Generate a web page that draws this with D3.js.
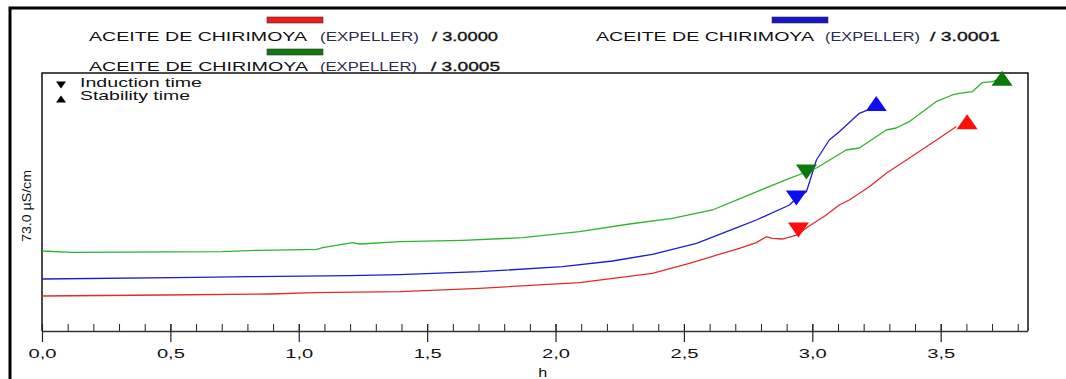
<!DOCTYPE html>
<html><head><meta charset="utf-8">
<script src="https://cdn.jsdelivr.net/npm/d3@7"></script>
<style>html,body{margin:0;padding:0;background:#fff;}svg{display:block;}</style>
</head><body>
<script>
// ---- data ----
const seriesNames = ["ACEITE DE CHIRIMOYA", "ACEITE DE CHIRIMOYA", "ACEITE DE CHIRIMOYA"];
const seriesTags = ["(EXPELLER)", "(EXPELLER)", "(EXPELLER)"];
const seriesMass = ["/ 3.0000", "/ 3.0001", "/ 3.0005"];

const redTime  = [0, 0.471, 0.887, 1.062, 1.393, 1.704, 2.093, 2.377, 2.521, 2.599, 2.650, 2.716, 2.782, 2.821, 2.844, 2.883, 2.938, 2.988, 3.050, 3.105, 3.144, 3.222, 3.288, 3.377, 3.444, 3.494, 3.560];
const redValue = [9.90, 10.19, 10.47, 10.84, 11.12, 12.08, 13.67, 16.33, 19.16, 20.85, 21.99, 23.40, 25.00, 26.68, 26.23, 26.03, 27.16, 29.71, 32.60, 35.65, 37.07, 40.83, 44.62, 48.87, 52.15, 54.53, 57.81];

const blueTime  = [0, 0.603, 0.809, 1.198, 1.393, 1.704, 2.027, 2.222, 2.377, 2.549, 2.716, 2.782, 2.911, 2.938, 2.977, 3.016, 3.066, 3.105, 3.183, 3.222];
const blueValue = [14.71, 15.19, 15.36, 15.65, 15.93, 16.78, 18.19, 19.81, 21.70, 24.81, 29.51, 31.41, 35.65, 37.55, 39.42, 48.38, 54.04, 56.39, 61.60, 62.73];

const greenTime  = [0, 0.117, 0.700, 0.848, 1.070, 1.093, 1.210, 1.237, 1.393, 1.638, 1.872, 2.093, 2.288, 2.455, 2.611, 2.716, 2.911, 2.977, 3.016, 3.132, 3.183, 3.288, 3.327, 3.377, 3.482, 3.545, 3.572, 3.623, 3.661, 3.700, 3.739];
const greenValue = [22.64, 22.27, 22.44, 22.83, 23.12, 23.57, 24.98, 24.62, 25.27, 25.66, 26.40, 28.10, 30.28, 31.89, 34.24, 37.41, 43.21, 44.99, 46.12, 51.21, 51.78, 56.87, 57.44, 59.22, 64.88, 66.78, 67.26, 67.71, 70.26, 70.54, 71.50];

const inductionTime  = [2.946, 2.938, 2.977];
const inductionValue = [28.6, 37.6, 45.0];
const stabilityTime  = [3.603, 3.249, 3.739];
const stabilityValue = [59.2, 64.4, 71.5];

const xTicksMajor = [0, 0.5, 1.0, 1.5, 2.0, 2.5, 3.0, 3.5];
const xMax = 3.84;
const yMax = 73.0;
const yLabel = "73.0 µS/cm";
const xLabel = "h";
const markerLegend = ["Induction time", "Stability time"];

// ---- styles ----
const lineColors = ["#e32a2a", "#1e1ecc", "#2eb42e"];
const markerColors = ["#ff0c0c", "#0c0cf5", "#0a7a0a"];
const swatchColors = ["#ee1c1c", "#1414c8", "#127812"];

const W = 1066, H = 379;
const L = 42, R = 1028, T = 73, B = 331;
const svg = d3.select("body").append("svg").attr("width", W).attr("height", H);
svg.append("rect").attr("width", W).attr("height", H).attr("fill", "#fff");

const x = d3.scaleLinear().domain([0, xMax]).range([L, R]);
const y = d3.scaleLinear().domain([0, yMax]).range([B, T]);

// outer frame
svg.append("path").attr("d", `M10,${H} L10,8 L${W},8`).attr("fill", "none").attr("stroke", "#000").attr("stroke-width", 3);

// plot box
svg.append("path").attr("d", `M${L},${B} L${L},${T} L${R},${T} L${R},${B}`)
  .attr("fill", "none").attr("stroke", "#111").attr("stroke-width", 1.5);

const font = "'Liberation Sans', Arial, sans-serif";

// minor ticks
const minorTicks = d3.range(0, 39).map(i => i / 10).filter(v => v <= xMax);
const gMinor = svg.append("g").attr("transform", `translate(0,${B})`)
  .call(d3.axisBottom(x).tickValues(minorTicks).tickSize(-7).tickFormat(""));
gMinor.select(".domain").remove();
gMinor.selectAll(".tick line").attr("stroke", "#222").attr("stroke-width", 1);

// major axis
const fmt = d3.format(".1f");
const gMajor = svg.append("g").attr("transform", `translate(0,${B})`)
  .call(d3.axisBottom(x).tickValues(xTicksMajor).tickSize(11).tickPadding(7)
    .tickFormat(d => fmt(d).replace(".", ",")));
gMajor.select(".domain").attr("stroke", "#333").attr("stroke-width", 1.5)
  .attr("d", `M${L},0.5H${R}`);
gMajor.selectAll(".tick line").attr("y1", -7).attr("stroke", "#222").attr("stroke-width", 1.2);
gMajor.selectAll(".tick text").attr("font-family", font).attr("font-size", 12.5).attr("fill", "#111")
  .attr("textLength", 28).attr("lengthAdjust", "spacingAndGlyphs");

// axis titles
svg.append("text").attr("x", x(1.95)).attr("y", 377).attr("text-anchor", "middle")
  .attr("font-family", font).attr("font-size", 12).attr("fill", "#111")
  .attr("textLength", 9).attr("lengthAdjust", "spacingAndGlyphs").text(xLabel);
svg.append("text").attr("transform", "translate(31,206) rotate(-90)").attr("text-anchor", "middle")
  .attr("font-family", font).attr("font-size", 13).attr("fill", "#111")
  .attr("textLength", 72).attr("lengthAdjust", "spacingAndGlyphs").text(yLabel);

// lines
const series = [
  {t: redTime, v: redValue},
  {t: blueTime, v: blueValue},
  {t: greenTime, v: greenValue}
];
const line = d3.line().x(d => x(d[0])).y(d => y(d[1]));
series.forEach((s, i) => {
  const pts = s.t.map((t, j) => [t, s.v[j]]);
  svg.append("path").datum(pts).attr("d", line).attr("fill", "none")
    .attr("stroke", lineColors[i]).attr("stroke-width", 1.3).attr("stroke-linejoin", "round");
});

// markers
const triDown = (w, h) => `M${-w/2},${-h/2}L${w/2},${-h/2}L0,${h/2}Z`;
const triUp = (w, h) => `M${-w/2},${h/2}L${w/2},${h/2}L0,${-h/2}Z`;
inductionTime.forEach((t, i) => {
  svg.append("path").attr("d", triDown(21, 15))
    .attr("transform", `translate(${x(t)},${y(inductionValue[i])})`).attr("fill", markerColors[i]);
});
stabilityTime.forEach((t, i) => {
  svg.append("path").attr("d", triUp(21, 15))
    .attr("transform", `translate(${x(t)},${y(stabilityValue[i])})`).attr("fill", markerColors[i]);
});

// marker legend
svg.append("path").attr("d", triDown(10, 7)).attr("transform", "translate(61,85)").attr("fill", "#000");
svg.append("path").attr("d", triUp(10, 7)).attr("transform", "translate(61,99)").attr("fill", "#000");
svg.append("text").attr("x", 80).attr("y", 87).attr("font-family", font).attr("font-size", 13.5).attr("fill", "#111")
  .attr("textLength", 122).attr("lengthAdjust", "spacingAndGlyphs").text(markerLegend[0]);
svg.append("text").attr("x", 80).attr("y", 100).attr("font-family", font).attr("font-size", 13.5).attr("fill", "#111")
  .attr("textLength", 110).attr("lengthAdjust", "spacingAndGlyphs").text(markerLegend[1]);

// series legend
const legendPos = [
  {sx: 267, sy: 17, tx: [89, 320, 432], tw: [218, 99, 66], base: 41},
  {sx: 772, sy: 17, tx: [596, 825, 930], tw: [218, 95, 70], base: 41},
  {sx: 267, sy: 49, tx: [89, 320, 431], tw: [219, 97, 69], base: 71}
];
legendPos.forEach((p, i) => {
  svg.append("rect").attr("x", p.sx).attr("y", p.sy).attr("width", 56).attr("height", 6)
    .attr("fill", swatchColors[i]).attr("stroke", "#333").attr("stroke-width", 0.6);
  const parts = [seriesNames[i], seriesTags[i], seriesMass[i]];
  const fills = ["#111", "#2c2c50", "#111"];
  parts.forEach((txt, k) => {
    svg.append("text").attr("x", p.tx[k]).attr("y", p.base)
      .attr("font-family", font).attr("font-size", 13.5).attr("fill", fills[k])
      .attr("stroke", k === 2 ? "#111" : "none").attr("stroke-width", k === 2 ? 0.35 : 0)
      .attr("textLength", p.tw[k]).attr("lengthAdjust", "spacingAndGlyphs").text(txt);
  });
});
</script>
</body></html>
